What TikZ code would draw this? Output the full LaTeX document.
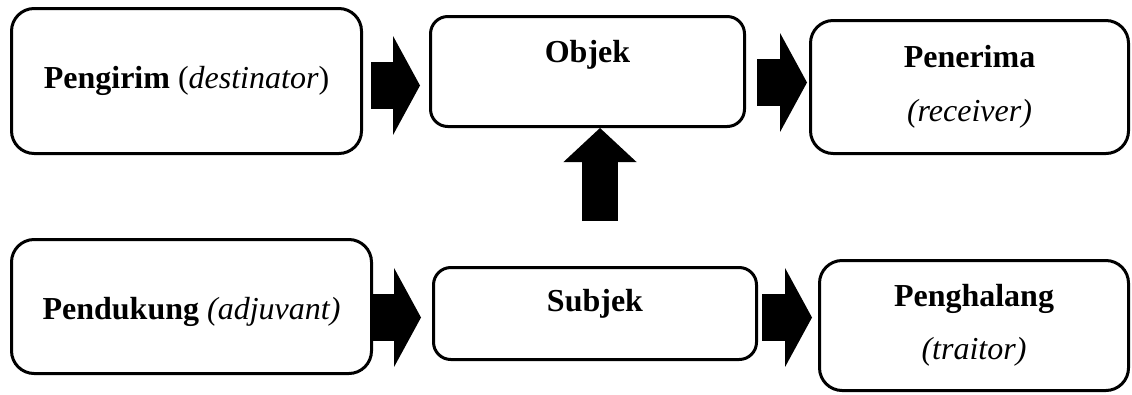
\documentclass[tikz,border=0pt,12pt]{standalone}
\usepackage{fontspec}
\setmainfont{Liberation Serif}
\usetikzlibrary{calc}
\usetikzlibrary{arrows.meta}
\tikzset{
	actant/.style={draw, line width=1.125pt, rounded corners=8.5pt, inner sep=0pt},
	actantsmall/.style={actant, rounded corners=6.5pt},
	fatarrow/.style={line width=17.4pt, -{Triangle[length=10.1pt,width=37.1pt,line width=0pt]}},
	uparrow/.style={line width=13.5pt, -{Triangle[length=12.75pt,width=27.4pt,line width=0pt]}}
}

\begin{document}
\begin{tikzpicture}[x=0.375pt, y=-0.375pt]
	\useasboundingbox (0,0) rectangle (1132,394);
	
	\node [actant, minimum width=131.25pt, minimum height=54.375pt] at (186.5,81) (1Pengirim) {\textbf{Pengirim} (\textit{destinator})};
	\node [actantsmall, minimum width=117.75pt, minimum height=41.25pt, text height=8.2pt, text depth=14.6pt] at (587.5,71.5) (1Objek) {\textbf{Objek}};
	\node [actant, align=center, minimum width=119.25pt, minimum height=49.875pt] at (969.5,87) (1Penerima) {\textbf{Penerima}\\[5.6pt]\textit{(receiver)}};
	
	\node [actant, minimum width=135pt, minimum height=50.25pt, text height=12pt, text depth=2.6pt] at (191.5,306.5) (2Pendukung) {\textbf{Pendukung} \textit{(adjuvant)}};
	\node [actantsmall, minimum width=121.125pt, minimum height=34.5pt, text height=8.2pt, text depth=9.7pt] at (595,313.5) (2Subjek) {\textbf{Subjek}};
	\node [actant, align=center, minimum width=115.875pt, minimum height=48.75pt] at (974,325.5) (2Penghalang) {\textbf{Penghalang}\\[5.4pt]\textit{(traitor)}};
	
	\draw [fatarrow] ($(1Pengirim.east)+(8,4.5)$) -- ($(1Objek.west)+(-9,14)$);
	\draw [fatarrow] ($(1Objek.east)+(11,11)$) -- ($(1Penerima.west)+(-2,-4.5)$);
	\draw [fatarrow] ($(2Pendukung.east)+(0,11)$) -- ($(2Subjek.west)+(-11,4)$);
	\draw [fatarrow] ($(2Subjek.east)+(4,4)$) -- ($(2Penghalang.west)+(-6,-8)$);
	\draw [uparrow] ($(2Subjek.north)+(5,-45)$) -- ($(1Objek.south)+(12.5,0)$);
	
\end{tikzpicture}
\end{document}
